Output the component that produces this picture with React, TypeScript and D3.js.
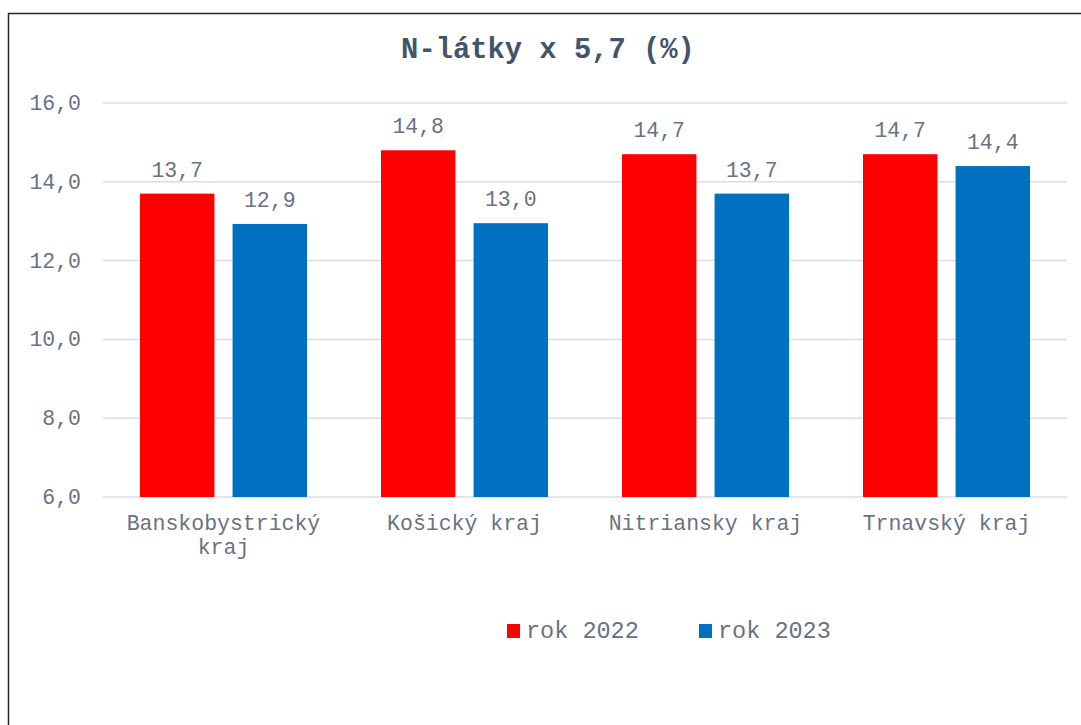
import React, { useEffect, useRef } from 'react';
import * as d3 from 'd3';

const categories = ['Banskobystrický kraj', 'Košický kraj', 'Nitriansky kraj', 'Trnavský kraj'];
const seriesNames = ['rok 2022', 'rok 2023'];
const values2022 = [13.7, 14.8, 14.7, 14.7];
const values2023 = [12.93, 12.95, 13.7, 14.4];
const labels2022 = ['13,7', '14,8', '14,7', '14,7'];
const labels2023 = ['12,9', '13,0', '13,7', '14,4'];
const yTicks = [6, 8, 10, 12, 14, 16];
const colors = ['#FF0000', '#0070C0'];

const FONT = '"Courier New", "Liberation Mono", monospace';
const TEXT_COLOR = '#687285';

const App = () => {
    const svgRef = useRef<SVGSVGElement>(null);

    useEffect(() => {
        const svg = d3.select(svgRef.current);
        svg.selectAll('*').remove();

        const W = 1081, H = 725;
        const left = 103, right = 1067, top = 103, bottom = 497;

        //outer frame, cut off on the right and bottom
        svg.append('rect')
            .attr('x', 8.5).attr('y', 13.5)
            .attr('width', W + 20).attr('height', H + 20)
            .attr('fill', '#fff')
            .attr('stroke', '#262626')
            .attr('stroke-width', 1.5);

        //title
        svg.append('text')
            .attr('x', 548).attr('y', 58)
            .attr('text-anchor', 'middle')
            .attr('font-family', FONT)
            .attr('font-size', '28.8px')
            .attr('font-weight', 'bold')
            .attr('fill', '#44546A')
            .text('N-látky x 5,7 (%)');

        const x0 = d3.scaleBand().domain(categories).range([left, right]);
        const x1 = d3.scaleBand().domain(seriesNames).range([37, x0.bandwidth() - 37]).paddingInner(0.196);
        const y = d3.scaleLinear().domain([6, 16]).range([bottom, top]);

        //gridlines
        svg.append('g').selectAll('line')
            .data(yTicks)
            .enter().append('line')
            .attr('x1', left).attr('x2', right)
            .attr('y1', d => y(d)).attr('y2', d => y(d))
            .attr('stroke', '#D9DDE3')
            .attr('stroke-width', 1.5);

        //y tick labels
        svg.append('g').selectAll('text')
            .data(yTicks)
            .enter().append('text')
            .attr('x', 81).attr('y', d => y(d) + 7)
            .attr('text-anchor', 'end')
            .attr('font-family', FONT)
            .attr('font-size', '21.5px')
            .attr('fill', TEXT_COLOR)
            .text(d => d3.format('.1f')(d).replace('.', ','));

        const series = [
            { name: seriesNames[0], values: values2022, labels: labels2022, color: colors[0] },
            { name: seriesNames[1], values: values2023, labels: labels2023, color: colors[1] }
        ];

        //bars and value labels
        series.forEach(s => {
            const g = svg.append('g');
            g.selectAll('rect')
                .data(categories)
                .enter().append('rect')
                .attr('x', (c) => (x0(c) as number) + (x1(s.name) as number))
                .attr('y', (_c, i) => y(s.values[i]))
                .attr('width', x1.bandwidth())
                .attr('height', (_c, i) => bottom - y(s.values[i]))
                .attr('fill', s.color);
            g.selectAll('text')
                .data(categories)
                .enter().append('text')
                .attr('x', (c) => (x0(c) as number) + (x1(s.name) as number) + x1.bandwidth() / 2)
                .attr('y', (_c, i) => y(s.values[i]) - 17)
                .attr('text-anchor', 'middle')
                .attr('font-family', FONT)
                .attr('font-size', '21.5px')
                .attr('fill', TEXT_COLOR)
                .text((_c, i) => s.labels[i]);
        });

        //category labels, wrapped when too long
        categories.forEach(c => {
            const lines = c.length > 18 ? [c.slice(0, c.lastIndexOf(' ')), c.slice(c.lastIndexOf(' ') + 1)] : [c];
            const t = svg.append('text')
                .attr('text-anchor', 'middle')
                .attr('font-family', FONT)
                .attr('font-size', '21.5px')
                .attr('fill', TEXT_COLOR);
            lines.forEach((ln, i) => {
                t.append('tspan')
                    .attr('x', (x0(c) as number) + x0.bandwidth() / 2)
                    .attr('y', 530 + i * 23.5)
                    .text(ln);
            });
        });

        //legend
        const legendX = [507, 699];
        series.forEach((s, i) => {
            svg.append('rect')
                .attr('x', legendX[i]).attr('y', 624)
                .attr('width', 13).attr('height', 14)
                .attr('fill', s.color);
            svg.append('text')
                .attr('x', legendX[i] + 19).attr('y', 638)
                .attr('font-family', FONT)
                .attr('font-size', '23.5px')
                .attr('fill', TEXT_COLOR)
                .text(s.name);
        });
    }, []);

    return (
        <svg
            ref={svgRef}
            width={1081}
            height={725}
            style={{ position: 'absolute', left: 0, top: 0, display: 'block', background: '#fff' }}
        ></svg>
    );
};

export default App;
